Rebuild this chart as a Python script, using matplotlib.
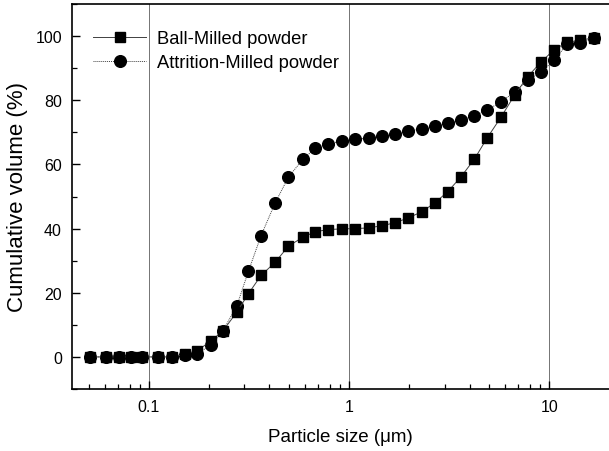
import matplotlib
matplotlib.use("Agg")
import matplotlib.pyplot as plt
from matplotlib.ticker import LogLocator, NullFormatter, FixedLocator, MultipleLocator

plt.rcParams['font.family'] = ['Liberation Sans', 'DejaVu Sans']

# Particle size (um)
size_um = [0.051, 0.061, 0.071, 0.081, 0.092, 0.111, 0.131, 0.151, 0.174, 0.204,
           0.234, 0.275, 0.314, 0.363, 0.427, 0.497, 0.587, 0.676, 0.785, 0.919,
           1.07, 1.25, 1.46, 1.69, 1.97, 2.30, 2.68, 3.11, 3.63, 4.23,
           4.90, 5.75, 6.71, 7.79, 9.09, 10.6, 12.3, 14.3, 16.8]

ball_milled = [0, 0, 0, 0, 0, 0, 0, 0.8, 1.9, 5.0,
               8.1, 14.0, 19.7, 25.4, 29.5, 34.5, 37.3, 39.0, 39.7, 39.9,
               40.0, 40.2, 40.9, 41.8, 43.3, 45.2, 48.0, 51.5, 56.2, 61.7,
               68.3, 74.8, 81.6, 87.3, 91.9, 95.8, 98.1, 98.7, 99.5]

attrition_milled = [0, 0, 0, 0, 0, 0, 0, 0.5, 1.0, 3.7,
                    8.1, 16.0, 26.7, 37.8, 48.0, 56.0, 61.6, 65.0, 66.4, 67.3,
                    67.8, 68.2, 68.8, 69.5, 70.3, 71.1, 72.0, 72.8, 73.8, 75.2,
                    77.0, 79.5, 82.6, 86.2, 88.8, 92.5, 97.6, 97.8, 99.5]

series_labels = ['Ball-Milled powder', 'Attrition-Milled powder']
x_major = [0.1, 1, 10]
x_major_labels = ['0.1', '1', '10']
y_ticks = [0, 20, 40, 60, 80, 100]

W, H = 609, 452
fig = plt.figure(figsize=(W / 100, H / 100), dpi=100)
left, right, top, bottom = 71.7, 609.5, 5, 390
ax = fig.add_axes([left / W, 1 - bottom / H, (right - left) / W, (bottom - top) / H])

ax.set_xscale('log')
ax.set_xlim(0.0411, 20.0)
ax.set_ylim(-10, 110)

for xv in x_major:
    ax.axvline(xv, color='0.45', lw=0.7, zorder=1)

ax.plot(size_um, ball_milled, linestyle='-', color='0.25', lw=0.7,
        marker='s', markersize=7.4, markerfacecolor='black', markeredgecolor='black',
        label=series_labels[0], zorder=3)
ax.plot(size_um, attrition_milled, linestyle=(0, (1, 1)), color='0.25', lw=0.7,
        marker='o', markersize=8.4, markerfacecolor='black', markeredgecolor='black',
        label=series_labels[1], zorder=2)

ax.xaxis.set_major_locator(FixedLocator(x_major))
ax.set_xticklabels(x_major_labels)
ax.xaxis.set_minor_locator(LogLocator(base=10, subs=[2, 3, 4, 5, 6, 7, 8, 9], numticks=20))
ax.xaxis.set_minor_formatter(NullFormatter())
ax.set_yticks(y_ticks)
ax.yaxis.set_minor_locator(MultipleLocator(10))

ax.tick_params(which='major', direction='in', length=6, width=1.0, labelsize=11.5, pad=7)
ax.tick_params(which='minor', direction='in', length=3.5, width=0.9)
ax.tick_params(axis='x', which='both', top=False)
ax.tick_params(axis='y', which='both', right=False)

for s in ['left', 'bottom', 'top']:
    ax.spines[s].set_linewidth(1.2)
ax.spines['right'].set_visible(False)

ax.set_xlabel('Particle size (\u03bcm)', fontsize=13.5, labelpad=10)
ax.set_ylabel('Cumulative volume (%)', fontsize=16, labelpad=5)

leg = ax.legend(loc='upper left', bbox_to_anchor=(0.04, 0.932), frameon=False,
                fontsize=13.2, handlelength=2.9, handletextpad=0.6, labelspacing=0.38,
                borderpad=0, borderaxespad=0)

fig.savefig('out.png', dpi=100)
